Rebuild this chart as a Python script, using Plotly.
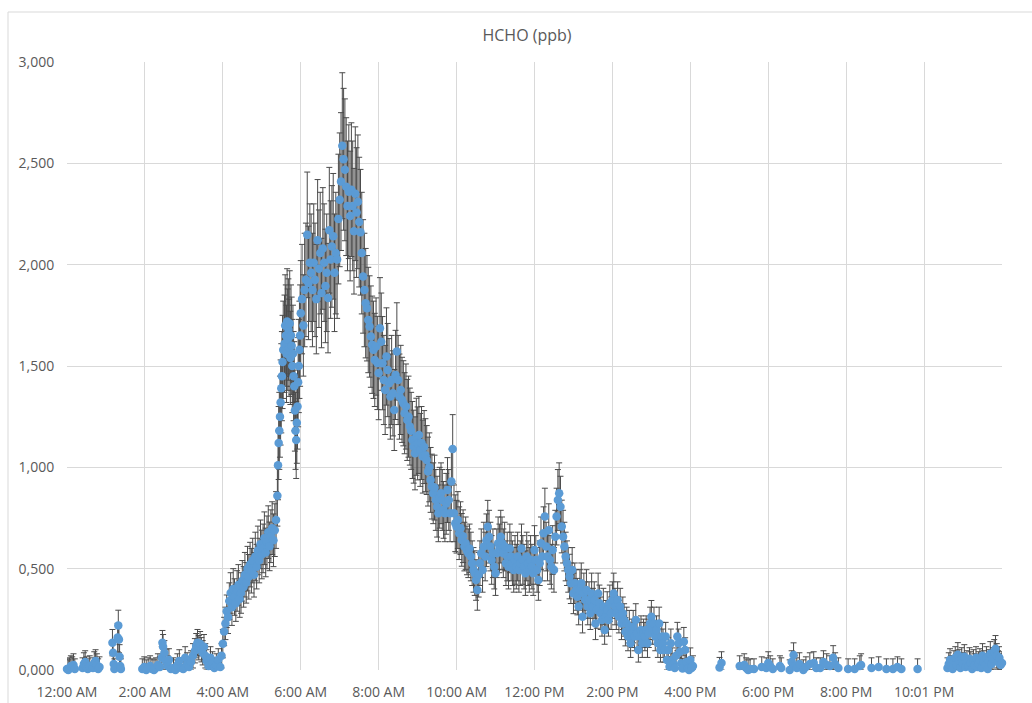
import plotly.graph_objects as go

# time in minutes after midnight, HCHO value (ppb), error bar size (ppb)
t1 = [0, 2, 4, 6, 8, 10, 12, 24, 26, 28, 30, 32, 35, 40, 42, 44, 46, 48, 50]
v1 = [5, 0, 10, 20, 15, 25, 5, 10, 30, 40, 15, 5, 20, 10, 35, 45, 25, 5, 15]
e1 = [50, 50, 50, 50, 50, 55, 50, 50, 55, 55, 50, 50, 50, 50, 55, 55, 55, 50, 50]

t2 = [70, 71, 72, 73, 78, 79, 80, 81, 82, 83]
v2 = [135, 85, 30, 5, 160, 220, 150, 65, 20, 5]
e2 = [65, 60, 55, 50, 70, 75, 65, 60, 50, 50]

t3 = [116, 119, 122, 125, 128, 131, 134, 137, 140, 143, 146, 147, 148, 150, 152, 155, 157, 160, 164, 167,
      170, 173, 176, 179, 182, 185, 188, 191, 194, 197, 199, 201, 203, 205, 207, 209, 211, 213, 215, 218,
      221, 224, 227, 230, 233, 236]
v3 = [5, 15, 0, 10, 20, 5, 0, 10, 25, 15, 60, 135, 115, 85, 45, 20, 50, 5, 10, 0,
      25, 45, 10, 5, 60, 30, 15, 40, 70, 95, 120, 135, 110, 130, 100, 85, 115, 70, 45, 20,
      60, 35, 10, 25, 50, 15]
e3 = [50, 50, 50, 50, 50, 50, 50, 50, 55, 50, 55, 60, 60, 60, 55, 50, 55, 50, 50, 50,
      55, 55, 50, 50, 55, 55, 50, 55, 60, 60, 60, 65, 60, 60, 60, 60, 60, 60, 55, 50,
      55, 55, 50, 55, 55, 50]

t4 = [238, 240, 242, 244, 246, 248, 250, 252, 254, 256, 258, 260, 262, 264, 266, 268, 270, 272, 274, 276,
      278, 280, 282, 284, 286, 288, 290, 292, 294, 296, 298, 300, 302, 304, 306, 308, 310, 312, 314, 316,
      318, 320, 322]
v4 = [70, 130, 190, 230, 290, 260, 340, 380, 310, 400, 360, 330, 390, 420, 350, 380, 440, 410, 470, 430,
      500, 460, 520, 490, 540, 470, 560, 510, 590, 540, 620, 570, 600, 650, 580, 630, 680, 610, 660, 700,
      640, 690, 740]
e4 = [60, 70, 70, 80, 80, 80, 90, 100, 90, 100, 90, 90, 100, 100, 90, 100, 100, 100, 110, 100,
      110, 110, 110, 110, 110, 110, 120, 110, 120, 110, 120, 120, 120, 130, 120, 130, 130, 120, 130, 130,
      130, 130, 140]

t5 = [324, 325, 326, 327, 328, 329, 330, 331, 332, 333, 335, 336, 337, 338, 339, 340, 341, 342, 343, 344,
      345, 346, 347, 348, 349, 350, 351, 352, 353, 354, 355, 356, 357, 358, 359]
v5 = [860, 1010, 1120, 1180, 1250, 1320, 1390, 1450, 1520, 1580, 1610, 1700, 1650, 1560, 1720, 1630, 1680,
      1590, 1710, 1540, 1650, 1600, 1500, 1560, 1450, 1400, 1280, 1180, 1135, 1220, 1300, 1420, 1500, 1580, 1650]
e5 = [150, 170, 180, 190, 200, 210, 220, 220, 230, 240, 240, 250, 250, 240, 260, 250, 250,
      240, 260, 230, 250, 240, 230, 240, 220, 220, 200, 190, 190, 200, 210, 220, 230, 240, 250]

t6 = [360, 362, 364, 366, 368, 370, 372, 374, 376, 378, 380, 382, 384, 386, 388, 390, 392, 394, 396, 398,
      400, 402, 404, 406, 408, 410, 412, 414, 416, 418, 420, 422, 424, 426, 428, 430, 432, 434, 436, 438,
      440, 442, 444, 446, 448, 450, 452, 454, 456, 458, 460, 462, 464, 466, 468, 470, 472, 474, 476, 478, 480]
v6 = [1760, 1830, 1700, 1875, 1925, 2147, 1910, 2010, 1960, 1875, 2010, 1925, 1830, 2120, 1980, 2057, 1860,
      2080, 2010, 1895, 1960, 1835, 2170, 2025, 2090, 2140, 1960, 2057, 2025, 2225, 2320, 2410, 2587, 2520,
      2468, 2385, 2290, 2360, 2240, 2370, 2290, 2165, 2350, 2257, 2310, 2210, 2160, 2057, 1942, 1875, 1810,
      1785, 1727, 1695, 1645, 1605, 1580, 1530, 1596, 1515, 1465]
e6 = [260, 270, 250, 280, 280, 310, 280, 290, 290, 280, 290, 280, 270, 300, 290, 300, 270,
      300, 290, 280, 290, 270, 310, 290, 300, 310, 290, 300, 290, 320, 330, 340, 360, 350,
      350, 340, 320, 330, 320, 330, 320, 310, 330, 320, 330, 320, 310, 300, 280, 280, 270,
      260, 260, 250, 250, 240, 240, 230, 240, 230, 230]

t7 = [482, 484, 486, 488, 490, 492, 494, 496, 498, 500, 502, 504, 506, 508, 510, 512, 514, 516, 518, 520,
      522, 524, 526, 528, 530, 532, 534, 536, 538, 540, 542, 544, 546, 548, 550, 552, 554, 556, 558, 560,
      562, 564, 566, 568, 570, 572, 574, 576, 578, 580, 582, 584, 586, 588, 590, 592, 594, 596, 598]
v7 = [1686, 1620, 1514, 1431, 1382, 1547, 1480, 1415, 1349, 1431, 1365, 1283, 1456, 1572, 1431, 1349, 1382,
      1333, 1316, 1267, 1300, 1234, 1250, 1201, 1180, 1135, 1102, 1069, 1151, 1118, 1160, 1086, 1120, 1053,
      1100, 1060, 1036, 979, 1000, 938, 905, 872, 900, 839, 806, 773, 850, 872, 839, 790, 773, 820, 888, 839,
      773, 930, 1090, 773, 724]
e7 = [250, 240, 230, 220, 220, 240, 230, 220, 210, 220, 210, 200, 220, 240, 220, 210, 220,
      210, 210, 200, 210, 200, 200, 190, 190, 190, 180, 180, 190, 180, 190, 180, 180, 180,
      180, 180, 170, 170, 170, 160, 160, 150, 160, 150, 150, 140, 150, 150, 150, 140, 140, 150, 160, 150,
      140, 160, 170, 140, 140]

t8 = [600, 602, 604, 606, 608, 610, 612, 614, 616, 618, 620, 622, 624, 626, 628, 630, 632, 634, 636, 638,
      640, 642, 644, 646, 648, 650, 652, 654, 656, 658, 660, 662, 664, 666, 668, 670, 672, 674, 676, 678,
      680, 682, 684, 686, 688, 690, 692, 694, 696, 698, 700, 702, 704, 706, 708, 710, 712, 714, 716, 718]
v8 = [707, 740, 675, 700, 642, 660, 609, 625, 590, 576, 600, 560, 527, 494, 478, 444, 395, 470, 527, 576,
      494, 609, 560, 640, 707, 658, 609, 543, 576, 510, 478, 576, 625, 600, 658, 625, 576, 609, 527, 560,
      510, 600, 560, 527, 494, 543, 510, 560, 494, 527, 600, 543, 510, 478, 560, 527, 494, 543, 510, 478]
e8 = [130, 140, 130, 130, 130, 130, 120, 130, 120, 120, 120, 120, 110, 110, 110, 100, 100, 110, 110, 120,
      110, 120, 120, 130, 130, 130, 120, 120, 120, 110, 110, 120, 130, 120, 130, 130, 120, 120, 110, 120,
      110, 120, 120, 110, 110, 120, 110, 120, 110, 110, 120, 120, 110, 110, 120, 110, 110, 120, 110, 110]

t9 = [720, 722, 724, 726, 728, 730, 732, 734, 736, 738, 740, 742, 744, 746, 748, 750, 752, 754, 756, 758,
      760, 762, 764, 766, 768, 770, 772, 774, 776, 778, 780, 782, 784, 786, 788, 790, 792, 794, 796, 798,
      800, 802, 804, 806, 808, 810, 812, 814, 816, 818, 820, 822, 824, 826, 828, 830, 832, 834, 836, 838]
v9 = [592, 543, 494, 444, 527, 625, 560, 675, 757, 609, 560, 690, 543, 510, 592, 494, 658, 757, 839, 872,
      806, 708, 658, 609, 560, 527, 494, 461, 428, 494, 378, 428, 395, 362, 313, 395, 428, 263, 378, 345,
      395, 313, 345, 280, 378, 313, 345, 230, 296, 378, 329, 280, 247, 313, 197, 263, 296, 247, 329, 280]
e9 = [120, 120, 110, 100, 110, 130, 120, 130, 140, 120, 120, 130, 120, 110, 120, 110, 130, 140, 150, 150,
      150, 130, 130, 120, 120, 110, 110, 110, 100, 110, 100, 100, 100, 90, 90, 100, 100, 80, 100, 90,
      100, 90, 90, 80, 100, 90, 90, 80, 90, 100, 90, 80, 80, 90, 70, 80, 90, 80, 90, 80]

t10 = [840, 842, 844, 846, 848, 850, 852, 854, 856, 858, 860, 862, 864, 866, 868, 870, 872, 874, 876, 878,
       880, 882, 884, 886, 888, 890, 892, 894, 896, 898, 900, 902, 904, 906, 908, 910, 912, 914, 916, 918,
       920, 922, 924, 926, 928, 930, 932, 934, 936, 938, 940, 942, 944, 946, 948, 950, 952, 954, 956, 958,
       960, 962, 964]
v10 = [345, 378, 313, 280, 345, 263, 313, 230, 280, 247, 189, 230, 165, 214, 132, 181, 214, 165, 247, 181,
       99, 165, 197, 132, 181, 165, 197, 132, 181, 230, 263, 197, 230, 165, 197, 132, 230, 99, 165, 132,
       99, 165, 49, 99, 16, 132, 49, 30, 10, 70, 165, 132, 90, 33, 8, 140, 99, 40, 8, 0,
       49, 10, 20]
e10 = [90, 100, 90, 80, 90, 80, 90, 80, 80, 80, 70, 80, 70, 80, 70, 70, 80, 70, 80, 70,
       60, 70, 70, 70, 70, 70, 70, 70, 70, 80, 80, 70, 80, 70, 70, 70, 80, 60, 70, 70,
       60, 70, 60, 60, 50, 70, 60, 50, 50, 60, 70, 70, 60, 50, 50, 70, 60, 50, 50, 50,
       60, 50, 50]

t11 = [1005, 1008, 1036, 1043, 1046, 1049, 1052, 1058, 1070, 1077, 1080, 1083, 1087, 1098, 1100, 1113, 1116,
       1119, 1121, 1124, 1128, 1134, 1138, 1144, 1150, 1154, 1160, 1165, 1170, 1175, 1180, 1183, 1188, 1203,
       1213, 1221, 1223, 1239, 1250, 1262, 1272, 1279, 1285, 1310]
v11 = [12, 35, 20, 25, 10, 0, 5, 5, 15, 10, 35, 20, 5, 20, 10, 0, 40,
       74, 20, 10, 30, 0, 15, 30, 35, 10, 10, 40, 25, 20, 60, 30, 10, 5,
       5, 20, 25, 10, 15, 5, 5, 15, 5, 5]
e11 = [50, 55, 50, 55, 50, 50, 50, 50, 50, 50, 55, 50, 50, 50, 50, 50, 55,
       60, 50, 50, 55, 50, 50, 55, 55, 50, 50, 55, 55, 50, 60, 55, 50, 50,
       50, 50, 55, 50, 50, 50, 50, 50, 50, 50]

t12 = [1356, 1358, 1360, 1362, 1364, 1366, 1368, 1370, 1372, 1374, 1376, 1378, 1380, 1382, 1384, 1386, 1388,
       1390, 1392, 1394, 1396, 1398, 1400, 1402, 1404, 1406, 1408, 1410, 1412, 1414, 1416, 1418, 1420, 1422,
       1424, 1426, 1428, 1430, 1432, 1434, 1436, 1438, 1440]
v12 = [10, 30, 50, 20, 5, 40, 60, 25, 75, 45, 10, 55, 30, 65, 15, 40, 20,
       55, 35, 5, 45, 25, 60, 15, 35, 50, 10, 70, 40, 25, 60, 5, 45, 80,
       30, 55, 90, 105, 70, 40, 60, 25, 35]
e12 = [50, 55, 55, 50, 50, 55, 55, 55, 60, 55, 50, 55, 55, 60, 50, 55, 50,
       55, 55, 50, 55, 55, 55, 50, 55, 55, 50, 60, 55, 55, 55, 50, 55, 60,
       55, 55, 60, 65, 60, 55, 55, 55, 55]

x_tickvals = [0, 120, 240, 360, 480, 600, 720, 840, 960, 1080, 1200, 1320]
x_ticktext = ["12:00 AM", "2:00 AM", "4:00 AM", "6:00 AM", "8:00 AM", "10:00 AM",
              "12:00 PM", "2:00 PM", "4:00 PM", "6:00 PM", "8:00 PM", "10:01 PM"]
y_tickvals = [0, 500, 1000, 1500, 2000, 2500, 3000]
y_ticktext = ["0,000", "0,500", "1,000", "1,500", "2,000", "2,500", "3,000"]

segments = [(t1, v1, e1), (t2, v2, e2), (t3, v3, e3), (t4, v4, e4), (t5, v5, e5), (t6, v6, e6),
            (t7, v7, e7), (t8, v8, e8), (t9, v9, e9), (t10, v10, e10), (t11, v11, e11), (t12, v12, e12)]
T, V, E = [], [], []
for i, (t, v, e) in enumerate(segments):
    assert len(t) == len(v) == len(e), (i + 1, len(t), len(v), len(e))
    T += t
    V += v
    E += e
# the axis starts at zero, so lower bars are cut there
E_minus = [min(e, v) for e, v in zip(E, V)]

GRID = "#d9d9d9"
TXT = "#595959"
FONT = "Open Sans"

fig = go.Figure()
fig.add_trace(go.Scatter(
    x=T, y=V, mode="markers",
    marker=dict(size=8.5, color="#5b9bd5", line=dict(width=0)),
    error_y=dict(type="data", symmetric=False, array=E, arrayminus=E_minus,
                 color="#4a4a4a", thickness=1, width=3),
    cliponaxis=False, showlegend=False, hoverinfo="x+y",
))

fig.update_layout(
    width=1032, height=703,
    margin=dict(l=67, r=30, t=62, b=33),
    paper_bgcolor="white", plot_bgcolor="white",
    font=dict(family=FONT, size=14, color=TXT),
    title=dict(text="HCHO (ppb)", x=527 / 1032, xref="container", xanchor="center",
               y=1 - 35 / 703, yref="container", yanchor="middle",
               font=dict(family=FONT, size=16, color=TXT)),
    xaxis=dict(range=[0, 1440], tickvals=x_tickvals, ticktext=x_ticktext, automargin=False,
               showgrid=True, gridcolor=GRID, gridwidth=1, zeroline=False, showline=False,
               ticks="outside", ticklen=9, tickcolor="rgba(0,0,0,0)",
               tickfont=dict(family=FONT, size=14, color=TXT), fixedrange=True),
    yaxis=dict(range=[0, 3000], tickvals=y_tickvals, ticktext=y_ticktext, automargin=False,
               showgrid=True, gridcolor=GRID, gridwidth=1, zeroline=False, showline=False,
               ticks="outside", ticklen=9, tickcolor="rgba(0,0,0,0)",
               tickfont=dict(family=FONT, size=14, color=TXT), fixedrange=True),
    shapes=[dict(type="rect", xref="paper", yref="paper",
                 x0=(8 - 67) / 935, x1=(1040 - 67) / 935,
                 y0=-(710 - 670) / 608, y1=1 + (62 - 12) / 608,
                 line=dict(color=GRID, width=1), fillcolor="rgba(0,0,0,0)", layer="below")],
)

fig.write_html("out.html")
